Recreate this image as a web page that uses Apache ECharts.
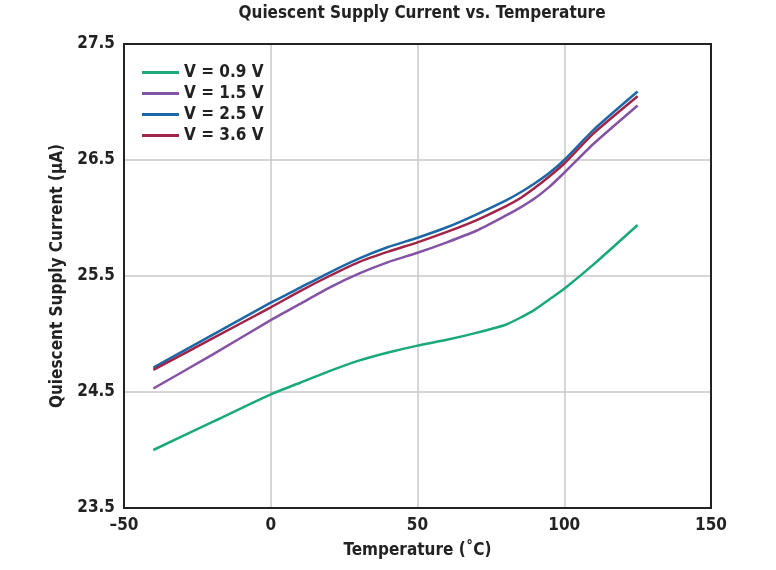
<!DOCTYPE html>
<html>
<head>
<meta charset="utf-8">
<script src="https://cdn.jsdelivr.net/npm/echarts@6/dist/echarts.min.js"></script>
<style>html,body{margin:0;padding:0;background:#fff}#c{width:776px;height:570px}</style>
</head>
<body>
<div id="c"></div>
<script>
const temps = [-40, -20, 0, 10, 20, 30, 40, 50, 60, 70, 80, 85, 90, 95, 100, 110, 125];
const v09 = [24.00, 24.24, 24.48, 24.58, 24.68, 24.77, 24.84, 24.90, 24.95, 25.01, 25.08, 25.14, 25.21, 25.30, 25.39, 25.60, 25.94];
const v15 = [24.53, 24.82, 25.12, 25.26, 25.40, 25.52, 25.62, 25.70, 25.79, 25.89, 26.02, 26.09, 26.17, 26.27, 26.39, 26.64, 26.97];
const v25 = [24.71, 24.99, 25.27, 25.40, 25.53, 25.65, 25.75, 25.83, 25.92, 26.03, 26.15, 26.22, 26.30, 26.39, 26.50, 26.76, 27.09];
const v36 = [24.69, 24.96, 25.23, 25.37, 25.50, 25.62, 25.71, 25.79, 25.88, 25.98, 26.10, 26.17, 26.26, 26.36, 26.47, 26.73, 27.05];
const seriesNames = ['V = 0.9 V', 'V = 1.5 V', 'V = 2.5 V', 'V = 3.6 V'];
const seriesValues = [v09, v15, v25, v36];
const colors = ['#1aa97b', '#8553a5', '#1c68a6', '#a02449'];
const xTicks = [-50, 0, 50, 100, 150];
const yTicks = [23.5, 24.5, 25.5, 26.5, 27.5];

const FONT = '"Liberation Sans Narrow", "DejaVu Sans Condensed", "Roboto", sans-serif';
const chart = echarts.init(document.getElementById('c'), null, {renderer: 'canvas'});
chart.setOption({
  animation: false,
  color: colors,
  title: {
    text: 'Quiescent Supply Current vs. Temperature',
    left: 417, top: 0, textAlign: 'center',
    textStyle: {fontFamily: FONT, fontWeight: 'bold', fontSize: 17, color: '#222'}
  },
  legend: {
    orient: 'vertical', left: 137, top: 59,
    itemWidth: 37, itemHeight: 3, itemGap: 4,
    icon: 'rect',
    data: seriesNames,
    textStyle: {fontFamily: FONT, fontWeight: 'bold', fontSize: 17, color: '#222', lineHeight: 16}
  },
  grid: {left: 124, right: 65, top: 44, bottom: 62, show: true, z: 5, borderColor: '#222', borderWidth: 2, containLabel: false},
  xAxis: {
    type: 'value', min: xTicks[0], max: xTicks[xTicks.length - 1], interval: 50,
    name: 'Temperature (˚C)', nameLocation: 'middle', nameGap: 34,
    nameTextStyle: {fontFamily: FONT, fontWeight: 'bold', fontSize: 17, color: '#222'},
    axisLine: {show: false}, axisTick: {show: false},
    axisLabel: {fontFamily: FONT, fontWeight: 'bold', fontSize: 17, color: '#222', margin: 9,
      formatter: v => (v < 0 ? '\u2013' + Math.abs(v) : String(v))},
    splitLine: {show: true, lineStyle: {color: '#c8c8c8', width: 1.5}}
  },
  yAxis: {
    type: 'value', min: yTicks[0], max: yTicks[yTicks.length - 1], interval: 1,
    name: 'Quiescent Supply Current (µA)', nameLocation: 'middle', nameGap: 58,
    nameTextStyle: {fontFamily: FONT, fontWeight: 'bold', fontSize: 17, color: '#222'},
    axisLine: {show: false}, axisTick: {show: false},
    axisLabel: {fontFamily: FONT, fontWeight: 'bold', fontSize: 17, color: '#222', margin: 9,
      formatter: v => v.toFixed(1)},
    splitLine: {show: true, lineStyle: {color: '#c8c8c8', width: 1.5}}
  },
  series: seriesNames.map((n, i) => ({
    name: n, type: 'line', showSymbol: false, smooth: 0.2,
    lineStyle: {width: 2.5, color: colors[i]},
    data: temps.map((t, j) => [t, seriesValues[i][j]])
  }))
});
</script>
</body>
</html>
